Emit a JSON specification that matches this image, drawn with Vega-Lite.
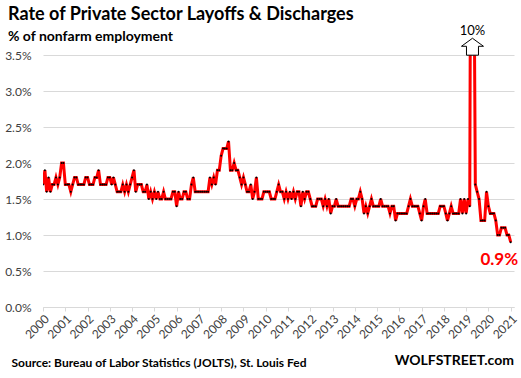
{
"$schema":"https://vega.github.io/schema/vega-lite/v6.json",
"width":471,"height":252,
"autosize":{"type":"none"},
"padding":{"left":43,"top":55,"right":7,"bottom":71},
"background":"white",
"title":{"text":"Rate of Private Sector Layoffs & Discharges","subtitle":"% of nonfarm employment","anchor":"start","frame":"group","dx":-35,"dy":27,"font":"Lato","fontSize":18,"fontWeight":"bold","color":"black","subtitleFont":"Lato","subtitleFontSize":14,"subtitleFontWeight":"bold","subtitleColor":"black","subtitlePadding":6,"offset":8},
"config":{"view":{"stroke":null},"font":"Lato","axis":{"labelFont":"Lato","labelFontSize":12,"labelColor":"#404040"}},
"datasets":{"series":[
{"d":"2000-01-01","v":1.7},{"d":"2000-02-01","v":1.9},{"d":"2000-03-01","v":1.6},{"d":"2000-04-01","v":1.8},{"d":"2000-05-01","v":1.6},{"d":"2000-06-01","v":1.7},{"d":"2000-07-01","v":1.7},{"d":"2000-08-01","v":1.8},{"d":"2000-09-01","v":1.7},{"d":"2000-10-01","v":1.8},{"d":"2000-11-01","v":2.0},{"d":"2000-12-01","v":2.0},
{"d":"2001-01-01","v":1.7},{"d":"2001-02-01","v":1.7},{"d":"2001-03-01","v":1.7},{"d":"2001-04-01","v":1.6},{"d":"2001-05-01","v":1.7},{"d":"2001-06-01","v":1.8},{"d":"2001-07-01","v":1.8},{"d":"2001-08-01","v":1.7},{"d":"2001-09-01","v":1.7},{"d":"2001-10-01","v":1.7},{"d":"2001-11-01","v":1.7},{"d":"2001-12-01","v":1.8},
{"d":"2002-01-01","v":1.8},{"d":"2002-02-01","v":1.7},{"d":"2002-03-01","v":1.7},{"d":"2002-04-01","v":1.7},{"d":"2002-05-01","v":1.8},{"d":"2002-06-01","v":1.8},{"d":"2002-07-01","v":1.9},{"d":"2002-08-01","v":1.7},{"d":"2002-09-01","v":1.7},{"d":"2002-10-01","v":1.7},{"d":"2002-11-01","v":1.7},{"d":"2002-12-01","v":1.8},
{"d":"2003-01-01","v":1.8},{"d":"2003-02-01","v":1.7},{"d":"2003-03-01","v":1.8},{"d":"2003-04-01","v":1.7},{"d":"2003-05-01","v":1.6},{"d":"2003-06-01","v":1.6},{"d":"2003-07-01","v":1.6},{"d":"2003-08-01","v":1.7},{"d":"2003-09-01","v":1.6},{"d":"2003-10-01","v":1.7},{"d":"2003-11-01","v":1.6},{"d":"2003-12-01","v":1.7},
{"d":"2004-01-01","v":1.8},{"d":"2004-02-01","v":1.9},{"d":"2004-03-01","v":1.6},{"d":"2004-04-01","v":1.7},{"d":"2004-05-01","v":1.7},{"d":"2004-06-01","v":1.7},{"d":"2004-07-01","v":1.6},{"d":"2004-08-01","v":1.6},{"d":"2004-09-01","v":1.7},{"d":"2004-10-01","v":1.5},{"d":"2004-11-01","v":1.6},{"d":"2004-12-01","v":1.5},
{"d":"2005-01-01","v":1.6},{"d":"2005-02-01","v":1.5},{"d":"2005-03-01","v":1.6},{"d":"2005-04-01","v":1.5},{"d":"2005-05-01","v":1.5},{"d":"2005-06-01","v":1.6},{"d":"2005-07-01","v":1.5},{"d":"2005-08-01","v":1.5},{"d":"2005-09-01","v":1.5},{"d":"2005-10-01","v":1.5},{"d":"2005-11-01","v":1.6},{"d":"2005-12-01","v":1.6},
{"d":"2006-01-01","v":1.4},{"d":"2006-02-01","v":1.6},{"d":"2006-03-01","v":1.5},{"d":"2006-04-01","v":1.5},{"d":"2006-05-01","v":1.6},{"d":"2006-06-01","v":1.6},{"d":"2006-07-01","v":1.5},{"d":"2006-08-01","v":1.5},{"d":"2006-09-01","v":1.7},{"d":"2006-10-01","v":1.8},{"d":"2006-11-01","v":1.6},{"d":"2006-12-01","v":1.6},
{"d":"2007-01-01","v":1.6},{"d":"2007-02-01","v":1.6},{"d":"2007-03-01","v":1.6},{"d":"2007-04-01","v":1.6},{"d":"2007-05-01","v":1.6},{"d":"2007-06-01","v":1.6},{"d":"2007-07-01","v":1.8},{"d":"2007-08-01","v":1.7},{"d":"2007-09-01","v":1.8},{"d":"2007-10-01","v":1.7},{"d":"2007-11-01","v":1.9},{"d":"2007-12-01","v":1.9},
{"d":"2008-01-01","v":2.1},{"d":"2008-02-01","v":2.2},{"d":"2008-03-01","v":2.2},{"d":"2008-04-01","v":2.2},{"d":"2008-05-01","v":2.3},{"d":"2008-06-01","v":1.9},{"d":"2008-07-01","v":1.9},{"d":"2008-08-01","v":2.0},{"d":"2008-09-01","v":1.9},{"d":"2008-10-01","v":1.9},{"d":"2008-11-01","v":1.8},{"d":"2008-12-01","v":1.7},
{"d":"2009-01-01","v":1.8},{"d":"2009-02-01","v":1.7},{"d":"2009-03-01","v":1.6},{"d":"2009-04-01","v":1.6},{"d":"2009-05-01","v":1.7},{"d":"2009-06-01","v":1.5},{"d":"2009-07-01","v":1.6},{"d":"2009-08-01","v":1.8},{"d":"2009-09-01","v":1.5},{"d":"2009-10-01","v":1.5},{"d":"2009-11-01","v":1.5},{"d":"2009-12-01","v":1.6},
{"d":"2010-01-01","v":1.6},{"d":"2010-02-01","v":1.6},{"d":"2010-03-01","v":1.6},{"d":"2010-04-01","v":1.5},{"d":"2010-05-01","v":1.5},{"d":"2010-06-01","v":1.5},{"d":"2010-07-01","v":1.6},{"d":"2010-08-01","v":1.7},{"d":"2010-09-01","v":1.6},{"d":"2010-10-01","v":1.6},{"d":"2010-11-01","v":1.5},{"d":"2010-12-01","v":1.6},
{"d":"2011-01-01","v":1.5},{"d":"2011-02-01","v":1.6},{"d":"2011-03-01","v":1.5},{"d":"2011-04-01","v":1.6},{"d":"2011-05-01","v":1.5},{"d":"2011-06-01","v":1.6},{"d":"2011-07-01","v":1.6},{"d":"2011-08-01","v":1.4},{"d":"2011-09-01","v":1.6},{"d":"2011-10-01","v":1.5},{"d":"2011-11-01","v":1.6},{"d":"2011-12-01","v":1.6},
{"d":"2012-01-01","v":1.5},{"d":"2012-02-01","v":1.4},{"d":"2012-03-01","v":1.4},{"d":"2012-04-01","v":1.4},{"d":"2012-05-01","v":1.5},{"d":"2012-06-01","v":1.5},{"d":"2012-07-01","v":1.5},{"d":"2012-08-01","v":1.4},{"d":"2012-09-01","v":1.5},{"d":"2012-10-01","v":1.4},{"d":"2012-11-01","v":1.5},{"d":"2012-12-01","v":1.3},
{"d":"2013-01-01","v":1.4},{"d":"2013-02-01","v":1.4},{"d":"2013-03-01","v":1.5},{"d":"2013-04-01","v":1.4},{"d":"2013-05-01","v":1.4},{"d":"2013-06-01","v":1.4},{"d":"2013-07-01","v":1.4},{"d":"2013-08-01","v":1.4},{"d":"2013-09-01","v":1.4},{"d":"2013-10-01","v":1.4},{"d":"2013-11-01","v":1.5},{"d":"2013-12-01","v":1.5},
{"d":"2014-01-01","v":1.4},{"d":"2014-02-01","v":1.5},{"d":"2014-03-01","v":1.5},{"d":"2014-04-01","v":1.6},{"d":"2014-05-01","v":1.5},{"d":"2014-06-01","v":1.3},{"d":"2014-07-01","v":1.4},{"d":"2014-08-01","v":1.3},{"d":"2014-09-01","v":1.4},{"d":"2014-10-01","v":1.5},{"d":"2014-11-01","v":1.4},{"d":"2014-12-01","v":1.4},
{"d":"2015-01-01","v":1.4},{"d":"2015-02-01","v":1.4},{"d":"2015-03-01","v":1.5},{"d":"2015-04-01","v":1.4},{"d":"2015-05-01","v":1.4},{"d":"2015-06-01","v":1.4},{"d":"2015-07-01","v":1.4},{"d":"2015-08-01","v":1.3},{"d":"2015-09-01","v":1.4},{"d":"2015-10-01","v":1.4},{"d":"2015-11-01","v":1.2},{"d":"2015-12-01","v":1.3},
{"d":"2016-01-01","v":1.3},{"d":"2016-02-01","v":1.3},{"d":"2016-03-01","v":1.3},{"d":"2016-04-01","v":1.3},{"d":"2016-05-01","v":1.3},{"d":"2016-06-01","v":1.4},{"d":"2016-07-01","v":1.5},{"d":"2016-08-01","v":1.4},{"d":"2016-09-01","v":1.4},{"d":"2016-10-01","v":1.4},{"d":"2016-11-01","v":1.4},{"d":"2016-12-01","v":1.3},
{"d":"2017-01-01","v":1.2},{"d":"2017-02-01","v":1.4},{"d":"2017-03-01","v":1.5},{"d":"2017-04-01","v":1.3},{"d":"2017-05-01","v":1.3},{"d":"2017-06-01","v":1.3},{"d":"2017-07-01","v":1.3},{"d":"2017-08-01","v":1.3},{"d":"2017-09-01","v":1.3},{"d":"2017-10-01","v":1.3},{"d":"2017-11-01","v":1.4},{"d":"2017-12-01","v":1.4},
{"d":"2018-01-01","v":1.4},{"d":"2018-02-01","v":1.3},{"d":"2018-03-01","v":1.2},{"d":"2018-04-01","v":1.3},{"d":"2018-05-01","v":1.4},{"d":"2018-06-01","v":1.3},{"d":"2018-07-01","v":1.3},{"d":"2018-08-01","v":1.3},{"d":"2018-09-01","v":1.3},{"d":"2018-10-01","v":1.5},{"d":"2018-11-01","v":1.3},{"d":"2018-12-01","v":1.5},
{"d":"2019-01-01","v":1.3},{"d":"2019-02-01","v":1.5},{"d":"2019-03-01","v":1.4},{"d":"2019-04-01","v":10.0},{"d":"2019-05-01","v":6.0},{"d":"2019-06-01","v":1.7},{"d":"2019-07-01","v":1.6},{"d":"2019-08-01","v":1.5},{"d":"2019-09-01","v":1.2},{"d":"2019-10-01","v":1.2},{"d":"2019-11-01","v":1.2},{"d":"2019-12-01","v":1.6},
{"d":"2020-01-01","v":1.4},{"d":"2020-02-01","v":1.3},{"d":"2020-03-01","v":1.3},{"d":"2020-04-01","v":1.3},{"d":"2020-05-01","v":1.2},{"d":"2020-06-01","v":1.0},{"d":"2020-07-01","v":1.0},{"d":"2020-08-01","v":1.1},{"d":"2020-09-01","v":1.1},{"d":"2020-10-01","v":1.1},{"d":"2020-11-01","v":1.0},{"d":"2020-12-01","v":1.0},
{"d":"2021-01-01","v":0.9}
],
"notes":[{"id":"spike","t":"10%"}]},
"layer":[
 {"data":{"name":"series"},
  "encoding":{
   "x":{"field":"d","type":"temporal","scale":{"type":"utc","domain":[{"year":2000,"month":1,"date":1,"utc":true},{"year":2021,"month":2,"date":24,"utc":true}],"nice":false},
    "axis":{"tickCount":{"interval":"year","step":1},"format":"%Y","labelAngle":-45,"labelAlign":"right","labelBaseline":"top","labelPadding":2,"labelOverlap":false,"grid":false,"domainColor":"#d9d9d9","tickColor":"#d9d9d9","tickSize":4,
     "title":"Source: Bureau of Labor Statistics (JOLTS), St. Louis Fed","titleAnchor":"start","titleAlign":"left","titleBaseline":"middle","titleX":-32,"titleY":55,"titleFont":"Lato","titleFontSize":12,"titleFontWeight":"bold","titleColor":"black"}},
   "y":{"field":"v","type":"quantitative","scale":{"domain":[0,3.5],"nice":false,"zero":true},
    "axis":{"values":[0,0.5,1,1.5,2,2.5,3,3.5],"labelExpr":"format(datum.value,'.1f')+'%'","labelOverlap":false,"title":null,"domain":false,"ticks":false,"gridColor":"#d9d9d9","labelPadding":12}}
  },
  "layer":[
   {"mark":{"type":"line","color":"#ff0000","strokeWidth":3,"clip":true}},
   {"mark":{"type":"point","shape":"circle","filled":true,"color":"black","size":4,"opacity":1,"clip":true}}
  ]},
 {"data":{"name":"notes"},
  "mark":{"type":"point","shape":"M0,-0.77L1,-0.04L0.545,-0.04L0.545,0.77L-0.545,0.77L-0.545,-0.04L-1,-0.04Z","size":484,"filled":true,"fill":"white","stroke":"black","strokeWidth":1,"opacity":1},
  "encoding":{"x":{"datum":{"year":2019,"month":4,"date":15,"utc":true},"type":"temporal"},"y":{"datum":3.615,"type":"quantitative","axis":{"values":[0,0.5,1,1.5,2,2.5,3,3.5],"labelExpr":"format(datum.value,'.1f')+'%'","labelOverlap":false,"title":null,"domain":false,"ticks":false,"gridColor":"#d9d9d9","labelPadding":12}}}},
 {"data":{"name":"notes"},
  "mark":{"type":"text","font":"Lato","fontSize":13,"color":"black","baseline":"middle","align":"center"},
  "encoding":{"text":{"field":"t"},"x":{"datum":{"year":2019,"month":4,"date":15,"utc":true},"type":"temporal"},"y":{"datum":3.83,"type":"quantitative","axis":{"values":[0,0.5,1,1.5,2,2.5,3,3.5],"labelExpr":"format(datum.value,'.1f')+'%'","labelOverlap":false,"title":null,"domain":false,"ticks":false,"gridColor":"#d9d9d9","labelPadding":12}}}},
 {"data":{"name":"notes"},
  "mark":{"type":"text","text":"0.9%","font":"Lato","fontSize":17,"fontWeight":"bold","color":"#ff0000","baseline":"middle","align":"center"},
  "encoding":{"x":{"datum":{"year":2020,"month":6,"date":28,"utc":true},"type":"temporal"},"y":{"datum":0.657,"type":"quantitative","axis":{"values":[0,0.5,1,1.5,2,2.5,3,3.5],"labelExpr":"format(datum.value,'.1f')+'%'","labelOverlap":false,"title":null,"domain":false,"ticks":false,"gridColor":"#d9d9d9","labelPadding":12}}}},
 {"data":{"name":"notes"},
  "mark":{"type":"text","text":"WOLFSTREET.com","font":"Lato","fontSize":14,"fontWeight":"bold","color":"black","baseline":"middle","align":"right"},
  "encoding":{"x":{"datum":{"year":2021,"month":2,"date":24,"utc":true},"type":"temporal"},"y":{"datum":-0.755,"type":"quantitative","axis":{"values":[0,0.5,1,1.5,2,2.5,3,3.5],"labelExpr":"format(datum.value,'.1f')+'%'","labelOverlap":false,"title":null,"domain":false,"ticks":false,"gridColor":"#d9d9d9","labelPadding":12}}}}
]
}
